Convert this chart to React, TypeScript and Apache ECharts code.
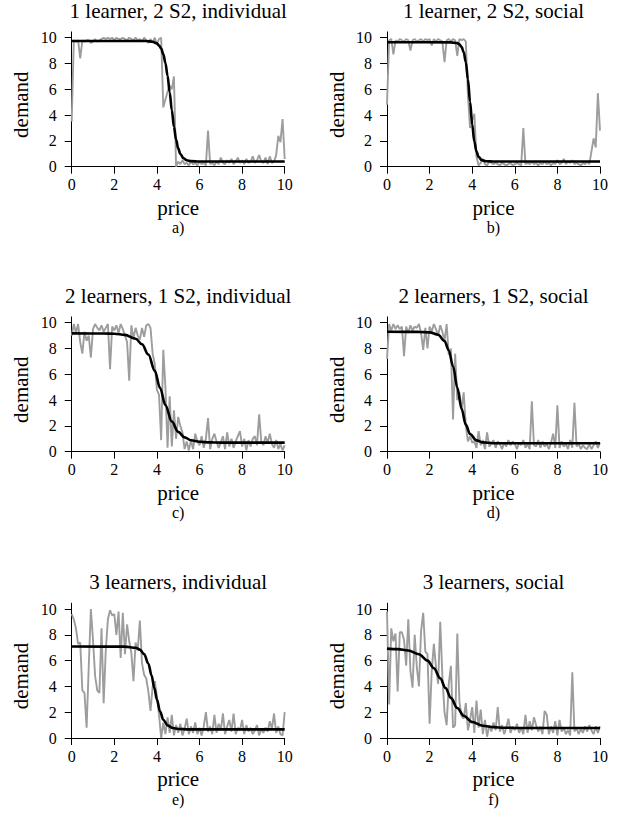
import React, { useEffect, useRef } from "react";
import * as echarts from "echarts";

// x sampling grid (price) shared by every noisy series
const PRICE: number[] = Array.from({ length: 101 }, (_, i) => i / 10);

const TICKS = [0, 2, 4, 6, 8, 10];

const TITLES = [
  "1 learner, 2 S2, individual",
  "1 learner, 2 S2, social",
  "2 learners, 1 S2, individual",
  "2 learners, 1 S2, social",
  "3 learners, individual",
  "3 learners, social",
];
const TAGS = ["a)", "b)", "c)", "d)", "e)", "f)"];

// observed demand (grey), one value per price step of 0.1
const DEMAND_A = [
  3.5, 9.8, 9.7, 9.8, 8.4, 9.8, 9.7, 9.8, 9.8, 9.6,
  9.7, 9.9, 9.7, 9.8, 9.9, 10.0, 9.9, 10.0, 9.9, 10.0,
  9.8, 10.0, 9.9, 9.9, 10.0, 9.9, 9.8, 10.0, 9.9, 9.8,
  10.0, 9.8, 9.9, 9.7, 10.0, 9.8, 9.6, 9.9, 9.6, 10.0,
  9.5, 9.9, 10.0, 4.6, 5.2, 5.8, 6.3, 6.0, 7.0, 0.0,
  0.4, 0.2, 0.5, 0.2, 0.3, 0.1, 0.4, 0.2, 0.3, 0.1,
  0.4, 0.2, 0.3, 0.1, 2.8, 0.2, 0.3, 0.1, 0.4, 0.2,
  0.7, 0.3, 0.2, 0.5, 0.3, 0.6, 0.2, 0.4, 0.7, 0.3,
  0.5, 0.2, 0.6, 0.3, 0.4, 0.8, 0.3, 0.5, 0.9, 0.4,
  0.3, 0.7, 0.2, 0.8, 0.3, 0.4, 0.9, 2.4, 1.9, 3.7,
  0.6,
];
const DEMAND_B = [
  4.8, 9.8, 9.9, 8.7, 9.8, 9.7, 9.9, 9.8, 9.7, 9.9,
  9.8, 9.0, 9.8, 9.9, 9.7, 9.8, 9.9, 9.7, 9.9, 9.8,
  9.9, 9.4, 9.9, 9.7, 9.9, 9.8, 9.7, 8.1, 9.8, 9.9,
  9.7, 9.9, 9.8, 8.6, 9.9, 9.8, 9.9, 9.7, 5.5, 3.0,
  3.6, 4.1, 0.8, 0.1, 0.3, 0.6, 0.2, 0.1, 0.4, 0.3,
  0.2, 0.3, 0.2, 0.1, 0.3, 0.2, 0.1, 0.2, 0.3, 0.1,
  0.2, 0.3, 0.2, 0.1, 3.0, 0.2, 0.3, 0.2, 0.4, 0.2,
  0.3, 0.1, 0.3, 0.2, 0.4, 0.2, 0.3, 0.1, 0.3, 0.2,
  0.5, 0.2, 0.3, 0.6, 0.2, 0.4, 0.3, 0.5, 0.2, 0.3,
  0.2, 0.1, 0.3, 0.2, 0.4, 0.2, 1.2, 2.2, 1.5, 5.7,
  2.8,
];
const DEMAND_C = [
  9.0, 9.9, 9.2, 9.9, 8.5, 7.6, 9.3, 8.6, 9.0, 7.3,
  9.5, 9.9, 9.6, 9.4, 9.8, 9.3, 9.6, 9.9, 6.4, 9.7,
  9.4, 9.8, 9.2, 9.9, 9.5, 9.0, 8.5, 5.5, 9.8, 8.8,
  9.6, 9.0, 8.7, 9.6, 8.9, 9.8, 9.9, 9.6, 7.6, 6.8,
  4.8, 4.4, 0.9, 7.9, 5.0, 0.3, 4.3, 0.4, 3.2, 1.0,
  2.7, 2.0, 1.5, 0.2, 0.8, 0.1, 0.9, 0.2, 1.4, 0.8,
  0.5, 1.2, 0.3, 1.0, 2.6, 0.2, 1.0, 1.4, 0.8, 0.3,
  0.7, 1.2, 0.2, 1.5, 0.4, 1.0, 0.3, 0.8, 1.2, 1.6,
  0.4, 1.0, 0.1, 0.9, 0.4, 1.0, 1.2, 0.5, 2.9, 0.8,
  0.5, 1.2, 0.7, 1.4, 0.6, 0.3, 0.9, 0.2, 0.6, 0.1,
  0.5,
];
const DEMAND_D = [
  7.2, 9.9, 9.4, 9.9, 9.5, 9.8, 9.5, 9.7, 7.4, 9.7,
  9.2, 9.8, 9.4, 9.7, 9.6, 9.9, 9.2, 7.9, 9.6, 8.0,
  9.7, 9.3, 9.9, 9.5, 9.0, 9.8, 9.3, 8.6, 9.9, 7.5,
  8.0, 2.5, 7.6, 4.0, 4.6, 3.2, 4.6, 2.0, 0.8, 1.2,
  0.7, 0.8, 0.3, 1.6, 0.5, 0.9, 0.2, 1.5, 0.4, 0.6,
  0.9, 0.3, 0.8, 0.6, 0.2, 0.7, 0.4, 0.9, 0.5, 0.8,
  0.6, 0.2, 0.7, 0.5, 0.9, 0.3, 0.6, 0.2, 3.9, 0.5,
  0.4, 0.9, 0.3, 0.8, 0.4, 0.6, 0.2, 0.7, 1.4, 0.3,
  3.6, 0.3, 0.8, 0.4, 0.6, 0.2, 0.9, 0.3, 3.8, 0.4,
  0.6, 0.2, 0.5, 0.3, 0.2, 0.6, 0.2, 0.5, 0.8, 0.3,
  0.7,
];
const DEMAND_E = [
  9.6, 9.2, 8.5, 7.3, 7.4, 3.7, 3.5, 0.8, 5.5, 10.0,
  7.6, 4.8, 3.7, 3.5, 8.5, 2.7, 6.8, 9.2, 9.9, 9.5,
  9.6, 8.0, 9.8, 6.2, 9.7, 6.5, 8.8, 7.5, 6.6, 4.4,
  7.4, 6.8, 9.1, 5.8, 4.9, 4.6, 3.6, 2.1, 4.0, 4.4,
  3.2, 1.8, 0.0, 1.2, 0.3, 1.6, 0.4, 1.8, 0.2, 1.0,
  0.4, 1.1, 0.2, 0.7, 1.5, 0.3, 0.9, 0.4, 1.2, 0.3,
  0.8, 0.2, 0.9, 2.0, 0.5, 0.9, 0.3, 1.8, 0.4, 1.1,
  0.6, 1.9, 0.3, 0.9, 1.4, 0.5, 1.9, 0.3, 0.8, 0.6,
  1.4, 0.3, 1.0, 0.5, 0.8, 0.3, 0.6, 1.0, 0.2, 0.7,
  0.4, 0.8, 0.5, 1.3, 0.7, 1.9, 0.4, 0.9, 0.3, 0.2,
  2.0,
];
const DEMAND_F = [
  9.8, 2.6, 8.5, 7.5, 8.1, 3.6, 8.2, 8.2, 7.6, 5.6,
  9.2, 5.2, 3.9, 8.0, 5.5, 4.0, 8.3, 9.7, 6.7, 6.5,
  1.1, 5.2, 7.3, 5.5, 4.2, 9.0, 4.8, 2.0, 1.0, 4.2,
  5.6, 0.8, 1.0, 8.1, 2.8, 1.7, 1.5, 2.7, 0.6, 1.4,
  2.4, 0.4, 2.9, 0.8, 2.2, 0.3, 1.4, 0.1, 1.0, 0.5,
  1.2, 0.6, 2.4, 0.5, 1.0, 0.3, 0.8, 1.5, 0.4, 0.9,
  0.6, 1.1, 0.4, 0.8, 0.3, 1.8, 0.4, 1.3, 0.6, 1.6,
  1.0, 0.5, 0.9, 0.3, 2.1, 1.8, 0.3, 0.9, 0.4, 1.3,
  0.2, 1.4, 0.5, 0.8, 0.3, 0.6, 0.2, 5.1, 0.5, 0.8,
  0.3, 0.7, 0.4, 0.9, 0.5, 1.0, 0.6, 0.3, 0.9, 0.4,
  0.9,
];

// fitted demand curves (black) as [price, demand]
const FIT_A = [
  [0, 9.75], [3.5, 9.74], [3.8, 9.69], [4.0, 9.56], [4.1, 9.4], [4.2, 9.16], [4.3, 8.73],
  [4.4, 8.04], [4.5, 7.05], [4.6, 5.77], [4.7, 4.38], [4.8, 3.1], [4.9, 2.11],
  [5.0, 1.42], [5.1, 0.99], [5.25, 0.65], [5.4, 0.5], [5.6, 0.43], [6.0, 0.4], [10, 0.4],
];
const FIT_B = [
  [0, 9.65], [3.0, 9.64], [3.3, 9.58], [3.4, 9.48], [3.5, 9.29], [3.6, 8.88], [3.7, 8.1],
  [3.8, 6.78], [3.9, 5.03], [4.0, 3.27], [4.1, 1.95], [4.2, 1.17], [4.3, 0.76],
  [4.45, 0.51], [4.65, 0.42], [5.0, 0.4], [10, 0.4],
];
const FIT_C = [
  [0, 9.17], [1.5, 9.16], [2.0, 9.14], [2.5, 9.06], [3.0, 8.76], [3.3, 8.33], [3.6, 7.53],
  [3.9, 6.27], [4.15, 4.94], [4.4, 3.6], [4.7, 2.34], [5.0, 1.54], [5.3, 1.11],
  [5.6, 0.89], [6.0, 0.77], [6.5, 0.72], [7.0, 0.7], [10, 0.7],
];
const FIT_D = [
  [0, 9.3], [1.5, 9.29], [2.0, 9.25], [2.4, 9.07], [2.7, 8.58], [2.9, 7.85], [3.1, 6.62],
  [3.3, 4.98], [3.5, 3.33], [3.7, 2.1], [3.9, 1.37], [4.2, 0.88], [4.5, 0.72],
  [5.0, 0.66], [10, 0.65],
];
const FIT_E = [
  [0, 7.09], [2.5, 7.08], [3.0, 7.0], [3.2, 6.85], [3.4, 6.5], [3.6, 5.76], [3.75, 4.85],
  [3.88, 3.88], [4.0, 2.98], [4.15, 2.05], [4.3, 1.42], [4.5, 0.98], [4.75, 0.77],
  [5.0, 0.7], [5.5, 0.67], [10, 0.67],
];
const FIT_F = [
  [0, 6.93], [0.5, 6.89], [1.0, 6.78], [1.5, 6.49], [1.9, 6.0], [2.2, 5.41], [2.5, 4.62],
  [2.75, 3.87], [3.0, 3.11], [3.3, 2.32], [3.6, 1.73], [4.0, 1.24], [4.5, 0.95],
  [5.0, 0.84], [5.5, 0.8], [6.0, 0.78], [10, 0.77],
];

const DEMANDS = [DEMAND_A, DEMAND_B, DEMAND_C, DEMAND_D, DEMAND_E, DEMAND_F];
const FITS = [FIT_A, FIT_B, FIT_C, FIT_D, FIT_E, FIT_F];

// layout
const COL_LEFT = [71.7, 387];
const PLOT_W = 213;
const ROW_BOTTOM = [166.7, 451.7, 738];
const PLOT_H = 134.8;
const Y_MAX = 10.45;
const FONT = "Liberation Serif";

export default function App() {
  const ref = useRef<HTMLDivElement>(null);

  useEffect(() => {
    if (!ref.current) return;
    const chart = echarts.init(ref.current, null, { renderer: "svg" });

    const grids: any[] = [];
    const xAxes: any[] = [];
    const yAxes: any[] = [];
    const series: any[] = [];
    const graphics: any[] = [];

    for (let i = 0; i < 6; i++) {
      const col = i % 2;
      const row = Math.floor(i / 2);
      const left = COL_LEFT[col];
      const bottom = ROW_BOTTOM[row];
      const cx = left + PLOT_W / 2;
      grids.push({
        left,
        top: bottom - PLOT_H,
        width: PLOT_W,
        height: PLOT_H,
        containLabel: false,
        outerBoundsMode: "none",
      });
      xAxes.push({
        type: "value",
        gridIndex: i,
        min: 0,
        max: 10,
        axisLine: { show: true, onZero: false, lineStyle: { color: "#000", width: 1 } },
        axisTick: { show: true, length: 7, customValues: TICKS, lineStyle: { color: "#000", width: 1 } },
        axisLabel: {
          show: true,
          customValues: TICKS,
          margin: 10,
          color: "#000",
          fontSize: 16,
          fontFamily: FONT,
        },
        splitLine: { show: false },
      });
      yAxes.push({
        type: "value",
        gridIndex: i,
        min: 0,
        max: Y_MAX,
        axisLine: { show: true, onZero: false, lineStyle: { color: "#000", width: 1 } },
        axisTick: { show: true, length: 7, customValues: TICKS, lineStyle: { color: "#000", width: 1 } },
        axisLabel: {
          show: true,
          customValues: TICKS,
          margin: 15,
          color: "#000",
          fontSize: 16,
          fontFamily: FONT,
        },
        splitLine: { show: false },
      });
      series.push({
        type: "line",
        xAxisIndex: i,
        yAxisIndex: i,
        data: PRICE.map((p, k) => [p, DEMANDS[i][k]]),
        showSymbol: false,
        symbol: "none",
        lineStyle: { color: "#9d9d9d", width: 1.9 },
        z: 2,
        silent: true,
      });
      series.push({
        type: "line",
        xAxisIndex: i,
        yAxisIndex: i,
        data: FITS[i],
        showSymbol: false,
        symbol: "none",
        smooth: 0.35,
        smoothMonotone: "x",
        lineStyle: { color: "#000", width: 2.6 },
        z: 3,
        silent: true,
      });
      const txt = (text: string, x: number, y: number, size: number, rot = 0) => ({
        type: "text",
        x,
        y,
        rotation: rot,
        silent: true,
        style: {
          text,
          fill: "#000",
          fontSize: size,
          fontFamily: FONT,
          align: "center",
          verticalAlign: "middle",
          textAlign: "center",
          textVerticalAlign: "middle",
        },
      });
      graphics.push(txt(TITLES[i], cx, bottom - 155.7, 21));
      graphics.push(txt("price", cx, bottom + 41, 21));
      graphics.push(txt(TAGS[i], cx, bottom + 61, 16));
      graphics.push(txt("demand", left - 50.5, bottom - 62, 21, Math.PI / 2));
    }

    chart.setOption({
      animation: false,
      backgroundColor: "#fff",
      grid: grids,
      xAxis: xAxes,
      yAxis: yAxes,
      series,
      graphic: graphics,
    });

    return () => chart.dispose();
  }, []);

  return (
    <div
      ref={ref}
      style={{ position: "absolute", left: 0, top: 0, width: 621, height: 819, background: "#fff" }}
    />
  );
}
